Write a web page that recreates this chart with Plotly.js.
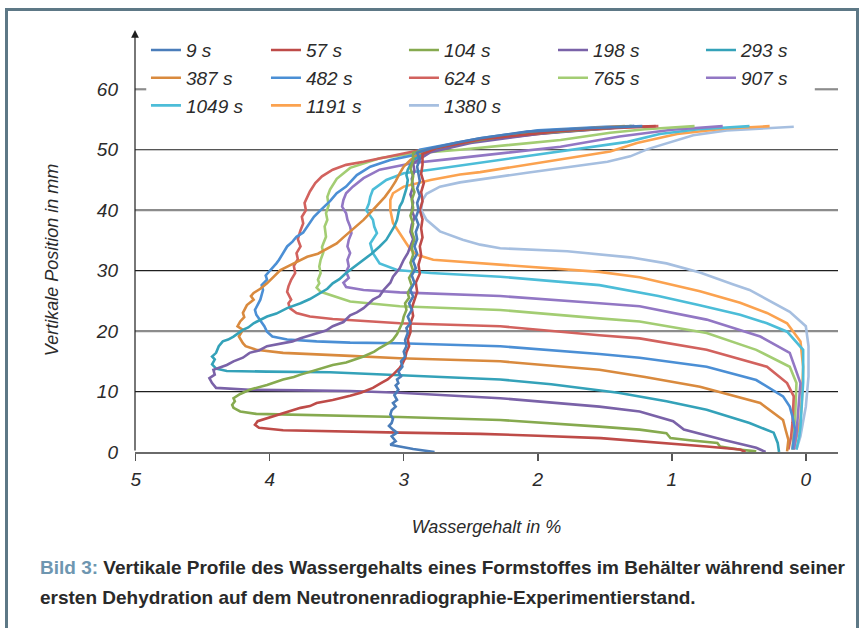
<!DOCTYPE html>
<html>
<head>
<meta charset="utf-8">
<script src="https://cdn.plot.ly/plotly-3.0.1.min.js"></script>
<style>
  html, body { margin:0; padding:0; background:#ffffff; }
  #frame { position:absolute; left:5px; top:8px; width:848px; height:640px;
           border:3px solid #5d7886; border-bottom:none; pointer-events:none; z-index:2; }
  #chart { position:absolute; left:0; top:0; width:861px; height:628px; z-index:1; }
</style>
</head>
<body>
<div id="chart"></div>
<div id="frame"></div>
<script>
// ---- series names and colours ----
const seriesNames = ['9 s','57 s','104 s','198 s','293 s','387 s','482 s','624 s','765 s','907 s','1049 s','1191 s','1380 s'];
const seriesColors = ['#4a7dba','#be4b48','#86aa4f','#7a62a8','#34a2b9','#d98a3e','#4b8fd5','#d2625e','#a3cd73','#9277c4','#4cbdd8','#fba24f','#a6bfe0'];

// ---- profiles: [Wassergehalt %, vertikale Position mm] ----
const s9 = [[2.77,0],[2.93,0.5],[3.10,1.2],[3.06,1.8],[3.09,2.6],[3.05,3.2],[3.08,3.7],[3.11,4.3],[3.09,4.8],[3.08,5.5],[3.10,6.2],[3.09,6.9],[3.06,7.5],[3.08,8.1],[3.05,8.6],[3.07,9.4],[3.04,10.3],[3.06,11.0],[3.04,11.4],[3.05,12.0],[3.02,12.5],[3.04,13.3],[3.01,14.1],[3.02,15.0],[2.99,15.8],[3.00,16.6],[2.98,17.5],[2.99,18.5],[2.97,19.7],[2.98,20.5],[2.95,21.3],[2.97,22.4],[2.94,23.5],[2.96,24.6],[2.93,25.7],[2.95,26.8],[2.92,28.0],[2.94,29.2],[2.91,30.4],[2.93,31.6],[2.90,32.8],[2.92,34.0],[2.90,35.2],[2.91,36.4],[2.89,37.6],[2.91,38.8],[2.89,40.0],[2.90,41.2],[2.88,42.4],[2.90,43.6],[2.88,44.8],[2.89,46.0],[2.90,47.2],[2.88,48.4],[2.90,49.5],[2.80,50.2],[2.60,51.2],[2.43,51.9],[2.08,53.0],[1.60,53.6],[1.22,53.9]];
const s57 = [[0.45,0],[0.49,0.4],[0.74,0.9],[1.03,1.4],[1.24,1.75],[1.53,2.3],[2.0,2.7],[2.43,3.0],[3.03,3.2],[3.55,3.4],[3.9,3.6],[4.08,4.0],[4.11,4.5],[4.09,5.1],[4.02,5.6],[3.95,6.0],[3.90,6.4],[3.84,6.8],[3.77,7.3],[3.70,7.6],[3.65,8.1],[3.53,8.6],[3.47,8.9],[3.40,9.3],[3.32,9.8],[3.23,10.6],[3.17,11.4],[3.12,12.0],[3.08,12.8],[3.03,13.9],[3.01,14.6],[2.99,15.5],[2.98,16.5],[2.96,17.5],[2.97,18.6],[2.95,19.8],[2.95,21.3],[2.93,22.5],[2.94,23.8],[2.92,25.2],[2.90,26.5],[2.91,28.0],[2.88,29.5],[2.89,31.0],[2.87,32.5],[2.88,34.0],[2.86,35.5],[2.87,37.0],[2.86,38.5],[2.88,40.0],[2.86,41.5],[2.87,43.0],[2.85,44.5],[2.87,46.0],[2.86,47.5],[2.86,49.3],[2.75,50.3],[2.43,51.7],[1.83,53.1],[1.40,53.7],[1.12,53.9]];
const s104 = [[0.37,0.1],[0.50,0.4],[0.64,0.9],[0.66,1.5],[0.85,1.9],[1.01,2.3],[1.04,3.1],[1.24,3.7],[1.54,4.2],[2.28,5.3],[3.03,5.8],[3.40,6.0],[3.77,6.1],[4.10,6.3],[4.22,6.7],[4.27,7.3],[4.28,7.8],[4.26,8.4],[4.27,8.9],[4.22,9.6],[4.15,10.3],[4.08,10.7],[4.02,11.1],[3.90,12.0],[3.82,12.4],[3.77,12.8],[3.65,13.6],[3.53,14.4],[3.43,14.8],[3.30,15.8],[3.22,16.6],[3.18,17.2],[3.10,18.2],[3.08,18.6],[3.05,19.5],[3.03,20.5],[3.01,21.4],[3.00,22.4],[2.98,23.5],[2.99,24.6],[2.96,25.5],[2.97,26.3],[2.94,27.5],[2.96,28.8],[2.93,30.0],[2.95,31.3],[2.93,32.6],[2.94,33.9],[2.92,35.2],[2.94,36.5],[2.93,37.8],[2.95,39.1],[2.93,40.4],[2.94,41.7],[2.92,43.0],[2.94,44.3],[2.93,45.6],[2.95,46.9],[2.93,48.2],[2.93,49.5],[2.60,51.0],[2.20,52.4],[1.70,53.3],[1.30,53.9]];
const s198 = [[0.30,0],[0.37,0.7],[0.61,2.0],[0.91,3.7],[0.99,5.1],[1.24,6.7],[1.54,7.5],[2.28,8.9],[3.03,9.8],[3.40,10.1],[3.77,10.2],[4.15,10.3],[4.40,10.6],[4.43,11.4],[4.45,12.2],[4.41,12.8],[4.42,13.6],[4.38,13.9],[4.32,14.4],[4.27,15.0],[4.20,15.6],[4.15,16.4],[4.08,16.8],[4.02,17.5],[3.90,18.0],[3.83,18.3],[3.77,18.8],[3.65,19.7],[3.58,20.1],[3.53,20.8],[3.45,21.5],[3.40,22.6],[3.35,23.1],[3.30,23.8],[3.23,25.2],[3.18,25.8],[3.15,26.8],[3.10,28.0],[3.08,29.0],[3.03,30.4],[3.00,31.8],[2.97,32.9],[2.95,34.0],[2.93,35.2],[2.95,36.4],[2.94,37.6],[2.92,38.8],[2.94,40.0],[2.93,41.3],[2.95,42.6],[2.93,43.9],[2.94,45.2],[2.92,46.5],[2.93,47.8],[2.80,49.6],[2.50,51.1],[2.00,52.6],[1.50,53.5],[1.28,53.9]];
const s293 = [[0.20,0],[0.21,1.5],[0.24,3.2],[0.42,4.8],[0.74,7.0],[1.04,8.4],[1.40,9.8],[1.90,11.2],[2.28,12.0],[3.03,12.7],[3.55,13.2],[4.02,13.3],[4.32,13.4],[4.40,13.8],[4.43,14.5],[4.41,15.3],[4.43,15.8],[4.40,16.4],[4.39,17.0],[4.38,17.5],[4.35,18.3],[4.31,18.6],[4.27,19.1],[4.20,20.2],[4.16,20.6],[4.12,21.3],[4.02,22.4],[3.95,22.9],[3.87,23.8],[3.77,24.6],[3.70,25.3],[3.65,26.0],[3.57,27.0],[3.53,27.9],[3.48,28.6],[3.43,29.6],[3.37,30.6],[3.30,31.8],[3.24,32.8],[3.18,34.0],[3.13,35.1],[3.10,36.2],[3.07,37.3],[3.05,38.4],[3.04,39.5],[3.03,40.6],[3.01,41.4],[3.00,42.2],[2.98,43.6],[2.97,45.0],[2.98,45.8],[2.97,46.7],[2.93,48.3],[2.80,49.9],[2.50,51.3],[2.00,52.7],[1.50,53.6],[1.30,53.9]];
const s387 = [[0.14,0.1],[0.13,2.0],[0.15,3.6],[0.17,5.3],[0.34,8.1],[0.79,10.8],[1.20,12.4],[1.54,13.6],[2.28,15.0],[3.03,15.5],[3.40,15.9],[3.65,16.1],[3.90,16.4],[4.10,16.9],[4.18,17.5],[4.20,18.0],[4.23,19.1],[4.20,20.2],[4.24,20.8],[4.22,21.6],[4.19,22.3],[4.20,23.0],[4.17,24.3],[4.12,25.2],[4.14,25.8],[4.12,26.3],[4.07,27.0],[4.02,27.9],[3.97,29.0],[3.92,30.1],[3.82,31.2],[3.72,32.3],[3.64,32.8],[3.57,33.7],[3.50,34.5],[3.45,35.5],[3.38,36.8],[3.30,38.4],[3.24,39.8],[3.18,41.2],[3.14,42.2],[3.10,43.4],[3.06,44.8],[3.03,46.1],[3.00,47.2],[2.95,48.3],[2.90,49.1],[2.70,50.5],[2.30,52.1],[1.80,53.3],[1.35,53.9]];
const s482 = [[0.10,0.4],[0.09,2.0],[0.08,3.7],[0.10,5.9],[0.12,7.5],[0.17,9.2],[0.37,11.9],[0.74,14.1],[1.24,15.6],[1.54,16.2],[2.28,17.5],[3.03,18.0],[3.40,18.1],[3.65,18.3],[3.87,18.6],[3.98,19.1],[4.02,19.9],[4.04,20.8],[4.07,21.8],[4.10,22.7],[4.11,23.5],[4.09,24.3],[4.07,25.2],[4.06,26.0],[4.05,26.8],[4.06,27.6],[4.02,28.5],[4.03,29.2],[4.00,29.9],[3.95,31.2],[3.93,31.8],[3.91,32.5],[3.87,34.0],[3.83,34.8],[3.80,35.6],[3.75,36.3],[3.72,37.3],[3.69,38.1],[3.67,38.9],[3.62,40.0],[3.55,41.5],[3.50,42.8],[3.43,43.9],[3.35,45.8],[3.25,47.2],[3.10,48.3],[2.93,49.1],[2.88,50.0],[2.43,51.9],[2.00,53.2],[1.50,53.8],[1.28,53.9]];
const s624 = [[0.13,0.4],[0.11,2.5],[0.10,4.8],[0.09,9.2],[0.14,11.4],[0.29,14.1],[0.74,16.9],[1.24,18.8],[1.54,19.3],[2.28,20.8],[3.03,21.3],[3.40,21.9],[3.53,22.0],[3.70,22.4],[3.80,23.0],[3.85,23.8],[3.86,24.6],[3.84,25.2],[3.85,25.7],[3.87,26.5],[3.86,27.4],[3.84,28.5],[3.81,29.6],[3.82,30.8],[3.79,31.9],[3.80,32.9],[3.77,34.0],[3.79,35.2],[3.77,36.7],[3.75,37.8],[3.76,38.9],[3.73,40.0],[3.74,41.2],[3.70,43.1],[3.66,44.5],[3.61,45.6],[3.53,46.7],[3.43,47.5],[3.30,48.0],[3.10,48.9],[2.93,49.7],[2.43,51.6],[1.83,53.0],[1.40,53.6],[1.10,53.9]];
const s765 = [[0.10,0.4],[0.09,3.0],[0.08,5.9],[0.07,11.4],[0.12,14.1],[0.37,16.9],[0.74,19.7],[1.24,21.6],[1.54,22.1],[2.28,23.5],[3.03,24.1],[3.40,24.9],[3.48,25.5],[3.55,26.0],[3.62,26.5],[3.65,27.2],[3.63,27.9],[3.64,28.5],[3.62,29.6],[3.63,30.7],[3.62,31.8],[3.60,33.0],[3.61,33.9],[3.60,34.5],[3.58,35.6],[3.59,37.3],[3.57,38.4],[3.58,39.5],[3.56,40.8],[3.57,42.2],[3.55,43.4],[3.50,45.2],[3.40,47.0],[3.18,48.6],[2.93,49.4],[2.58,50.0],[2.43,50.3],[1.83,51.6],[1.46,52.8],[1.20,53.4],[0.83,53.9]];
const s907 = [[0.09,0.4],[0.07,3.0],[0.06,5.9],[0.04,11.4],[0.12,16.4],[0.34,19.1],[0.74,21.9],[1.24,24.1],[1.54,24.6],[2.28,25.8],[3.03,26.4],[3.30,26.8],[3.43,27.3],[3.45,28.0],[3.41,28.8],[3.43,29.8],[3.41,30.7],[3.42,31.8],[3.40,32.9],[3.42,34.0],[3.41,35.1],[3.39,36.2],[3.40,37.3],[3.42,38.4],[3.43,39.5],[3.46,40.6],[3.45,41.7],[3.43,42.8],[3.38,43.9],[3.30,45.3],[3.18,46.7],[2.93,47.8],[2.68,48.4],[2.43,49.0],[1.83,50.5],[1.39,52.2],[1.00,53.3],[0.62,53.9]];
const s1049 = [[0.07,0.4],[0.05,2.5],[0.04,4.2],[0.03,8.0],[0.02,11.5],[0.02,16.9],[0.14,19.9],[0.29,21.3],[0.49,22.7],[0.80,24.3],[1.10,25.8],[1.54,27.6],[2.28,29.0],[2.80,29.6],[3.05,30.1],[3.18,31.2],[3.23,32.9],[3.25,34.5],[3.20,36.2],[3.22,37.3],[3.23,38.4],[3.28,40.0],[3.26,41.1],[3.25,42.2],[3.23,43.4],[3.13,45.0],[3.00,46.1],[2.80,46.7],[2.58,47.4],[2.43,47.8],[1.83,49.7],[1.33,51.3],[1.09,52.6],[0.80,53.4],[0.42,53.9]];
const s1191 = [[0.09,0.4],[0.07,2.6],[0.04,5.5],[0.03,8.6],[0.02,14.1],[0.04,18.3],[0.14,21.3],[0.29,23.0],[0.49,24.7],[0.79,26.6],[1.04,27.9],[1.24,28.9],[1.54,29.8],[2.28,31.0],[2.78,31.8],[2.90,32.6],[2.95,33.5],[2.98,34.5],[3.03,36.2],[3.08,37.9],[3.10,40.0],[3.10,41.7],[3.08,42.8],[3.00,43.9],[2.80,45.0],[2.58,45.9],[2.43,46.3],[1.76,48.6],[1.46,49.7],[1.26,51.1],[0.96,52.6],[0.60,53.5],[0.27,53.9]];
const s1380 = [[0.07,0.4],[0.04,2.6],[0.00,7.5],[-0.02,12.5],[-0.02,17.5],[0.00,20.8],[0.12,23.2],[0.29,25.2],[0.42,26.8],[0.54,27.7],[0.79,29.7],[1.04,31.2],[1.31,32.2],[1.78,33.2],[2.28,33.7],[2.43,34.3],[2.56,35.1],[2.73,36.5],[2.83,38.4],[2.87,40.0],[2.86,41.7],[2.83,42.7],[2.73,43.9],[2.58,44.6],[2.43,45.1],[2.08,46.2],[1.48,48.0],[1.31,48.9],[1.18,50.1],[0.84,52.4],[0.59,53.2],[0.09,53.8]];

const profiles = [s9,s57,s104,s198,s293,s387,s482,s624,s765,s907,s1049,s1191,s1380];

// ---- axis ticks ----
const xTickVals = [0,1,2,3,4,5];
const yTickVals = [0,10,20,30,40,50,60];
const gridDark = [10,30,50];
const gridLight = [20,40];

const FONT = '"Liberation Sans", Arial, sans-serif';
const legendIds = ['legend','legend2','legend3','legend4','legend5'];
const legendX = [0.0156,0.1863,0.3826,0.5946,0.8051];

const traces = [];
for (let i = profiles.length - 1; i >= 0; i--) {
  traces.push({
    type:'scatter', mode:'lines', name: seriesNames[i],
    x: profiles[i].map(p => p[0]), y: profiles[i].map(p => p[1]),
    line:{color: seriesColors[i], width:2.6},
    legend: legendIds[i % 5], legendrank: i + 1,
    hoverinfo:'skip'
  });
}

const shapes = [];
gridDark.forEach(v => shapes.push({type:'line', xref:'paper', yref:'y', x0:0, x1:1, y0:v, y1:v, layer:'below', line:{color:'#1e1e1e', width:1.2}}));
gridLight.forEach(v => shapes.push({type:'line', xref:'paper', yref:'y', x0:0, x1:1, y0:v, y1:v, layer:'below', line:{color:'#8c8c8c', width:2.2}}));
shapes.push({type:'line', xref:'paper', yref:'y', x0:0, x1:0.016, y0:60, y1:60, layer:'below', line:{color:'#8c8c8c', width:2.2}});
shapes.push({type:'line', xref:'paper', yref:'y', x0:0.967, x1:1, y0:60, y1:60, layer:'below', line:{color:'#8c8c8c', width:2.2}});

const layout = {
  width:861, height:628,
  margin:{l:135, r:23, t:68, b:176},
  paper_bgcolor:'rgba(0,0,0,0)', plot_bgcolor:'rgba(0,0,0,0)',
  font:{family:FONT, color:'#2b2b2b'},
  showlegend:true,
  xaxis:{
    range:[5.005,-0.24], autorange:false, tickvals:xTickVals,
    showgrid:false, zeroline:false, showline:true, linecolor:'#6a6a6a', linewidth:2,
    ticks:'outside', ticklen:7, tickwidth:1.5, tickcolor:'#555',
    ticklabelstandoff:2,
    tickfont:{family:FONT, size:19, style:'italic', color:'#2b2b2b'},
    title:{text:'Wassergehalt in %', font:{family:FONT, size:18, style:'italic', color:'#2b2b2b'}, standoff:32},
    automargin:true
  },
  yaxis:{
    range:[0,63.52], autorange:false, tickvals:yTickVals,
    showgrid:false, zeroline:false, showline:false, ticks:'',
    ticklabelstandoff:16,
    tickfont:{family:FONT, size:19, style:'italic', color:'#2b2b2b'},
    title:{text:'Vertikale Position in mm', font:{family:FONT, size:18, style:'italic', color:'#2b2b2b'}, standoff:32},
    automargin:true
  },
  shapes: shapes,
  annotations:[
    {xref:'paper', yref:'paper', x:0, y:1.099, ax:0, ay:422, axref:'pixel', ayref:'pixel',
     showarrow:true, arrowhead:2, arrowsize:1.3, arrowwidth:1.2, arrowcolor:'#1e1e1e', text:'', standoff:0},
    {xref:'paper', yref:'paper', x:-0.138, y:-0.302, xanchor:'left', yanchor:'middle', showarrow:false, align:'left',
     text:'<span style="color:#6e96b0">Bild 3:</span> Vertikale Profile des Wassergehalts eines Formstoffes im Behälter während seiner',
     font:{family:FONT, size:19, weight:'bold', color:'#2a2a2a'}},
    {xref:'paper', yref:'paper', x:-0.138, y:-0.380, xanchor:'left', yanchor:'middle', showarrow:false, align:'left',
     text:'ersten Dehydration auf dem Neutronenradiographie-Experimentierstand.',
     font:{family:FONT, size:19, weight:'bold', color:'#2a2a2a'}}
  ]
};
legendIds.forEach((id, k) => {
  layout[id] = {x:legendX[k], y:1.096, xanchor:'left', yanchor:'top', orientation:'v',
    bgcolor:'rgba(0,0,0,0)', borderwidth:0, tracegroupgap:0,
    font:{family:FONT, size:19, style:'italic', color:'#2b2b2b'}};
});

Plotly.newPlot('chart', traces, layout, {staticPlot:true, displayModeBar:false});
</script>
</body>
</html>
